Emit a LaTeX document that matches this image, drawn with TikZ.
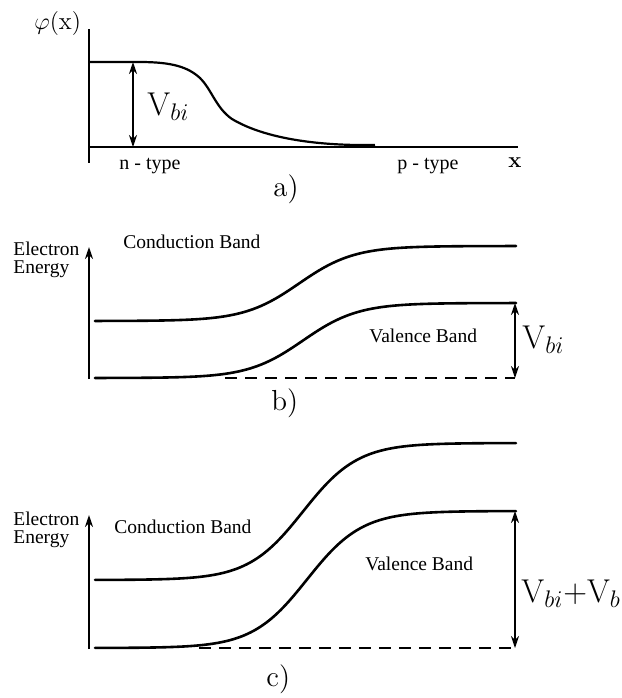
\documentclass[tikz,border=0pt]{standalone}
\usepackage{fontspec}
\newfontfamily\tms{Liberation Serif}
\usetikzlibrary{arrows.meta}
\begin{document}
\begin{tikzpicture}[x=0.5pt,y=-0.5pt,
  axis/.style={line width=1pt},
  band/.style={line width=1.3pt, line cap=round},
  dim/.style={line width=0.7pt, {Stealth[length=6pt,width=4pt]}-{Stealth[length=6pt,width=4pt]}},
  uparrow/.style={line width=0.7pt, -{Stealth[length=6pt,width=4pt]}},
  lbl/.style={inner sep=0, anchor=base west, font=\tms\fontsize{9.75}{11}\selectfont},
  big/.style={inner sep=0, anchor=base west, font=\fontsize{16.5}{18}\selectfont},
  capt/.style={inner sep=0, anchor=base west, font=\fontsize{14.5}{16}\selectfont},
  dsh/.style={line width=0.7pt, dash pattern=on 6pt off 4pt}]
\useasboundingbox (0,0) rectangle (622,698);
% ---------- panel a ----------
\coordinate (ay0) at (89,29); \coordinate (ay1) at (89,163);
\coordinate (ax0) at (89,147); \coordinate (ax1) at (518,147);
\draw[axis] (ay0) -- (ay1);
\draw[axis] (ax0) -- (ax1);
\draw[line width=1.1pt] (89,62) -- (140,62) .. controls (172,62) and (188,67) .. (200,78)
  .. controls (212,90) and (216,108) .. (232,119) .. controls (262,137) and (312,146) .. (375,145);
\coordinate (aT) at (133,62); \coordinate (aB) at (133,147);
\draw[dim] (aT) -- (aB);
\node[inner sep=0, anchor=base west, font=\fontsize{12.5}{14}\selectfont] (phi) at (34,29) {$\varphi(\mathrm{x})$};
\node[big] (vbia) at (147,115) {V$_{bi}$};
\node[lbl, font=\tms\fontsize{10}{11}\selectfont] (ntype) at (119,169) {n - type};
\node[lbl, font=\tms\fontsize{10}{11}\selectfont] (ptype) at (397,169) {p - type};
\node[inner sep=0, anchor=base west, font=\bfseries\fontsize{11}{12}\selectfont] (xlab) at (508,167) {x};
\node[capt] (capa) at (273,196) {a)};
% ---------- panel b ----------
\coordinate (bA0) at (89,379); \coordinate (bA1) at (89,247);
\draw[uparrow] (bA0) -- (bA1);
\node[lbl] (eb1) at (13,255) {Electron};
\node[lbl] (eb2) at (13,273) {Energy};
\node[lbl] (cbb) at (123,248) {Conduction Band};
\node[lbl] (vbb) at (369,342) {Valence Band};
\draw[band] plot[domain=95:516, samples=120, smooth] (\x, {321-75*(1+tanh((\x-299)/55))/2});
\draw[band] plot[domain=95:516, samples=120, smooth] (\x, {378-75*(1+tanh((\x-303)/55))/2});
\coordinate (bD0) at (225,378); \coordinate (bD1) at (515,378);
\draw[dsh] (bD0) -- (bD1);
\coordinate (bT) at (515,303); \coordinate (bB) at (515,378);
\draw[dim] (bT) -- (bB);
\node[big] (vbib) at (522,348) {V$_{bi}$};
\node[capt] (capb) at (271,410) {b)};
% ---------- panel c ----------
\coordinate (cA0) at (89,649); \coordinate (cA1) at (89,515);
\draw[uparrow] (cA0) -- (cA1);
\node[lbl] (ec1) at (13,525) {Electron};
\node[lbl] (ec2) at (13,543) {Energy};
\node[lbl] (cbc) at (114,533) {Conduction Band};
\node[lbl] (vbc) at (365,570) {Valence Band};
\draw[band] plot[domain=95:516, samples=120, smooth] (\x, {580-137*(1+tanh((\x-303)/55))/2});
\draw[band] plot[domain=95:516, samples=120, smooth] (\x, {648-137*(1+tanh((\x-307)/55))/2});
\coordinate (cD0) at (199,648); \coordinate (cD1) at (515,648);
\draw[dsh] (cD0) -- (cD1);
\coordinate (cT) at (515,511); \coordinate (cB) at (515,648);
\draw[dim] (cT) -- (cB);
\node[big] (vbic) at (521,602) {V$_{bi}$+V$_b$};
\node[capt] (capc) at (266,686) {c)};
\end{tikzpicture}
\end{document}
